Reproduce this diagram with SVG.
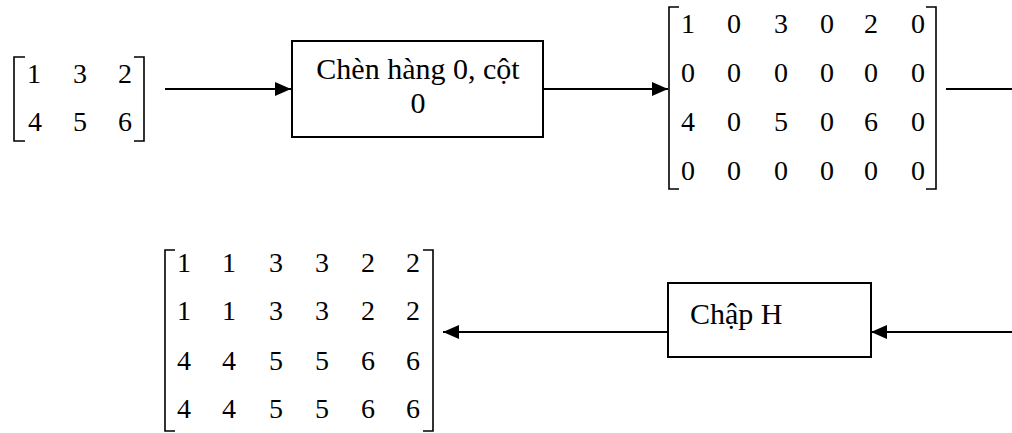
<svg xmlns="http://www.w3.org/2000/svg" width="1012" height="433" viewBox="0 0 1012 433">
<style>
  .t { font-family: "Liberation Serif", "Times New Roman", serif; font-size: 30px; fill: #000; }
  .br { fill: none; stroke: #000; stroke-width: 1.6; }
  .box { fill: #fff; stroke: #000; stroke-width: 2; }
  .ln { fill: none; stroke: #000; stroke-width: 2; }
</style>
<defs>
  <marker id="ah" markerUnits="userSpaceOnUse" markerWidth="16" markerHeight="14" refX="16" refY="7" orient="auto">
    <path d="M0,0 L16,7 L0,14 z" fill="#000"/>
  </marker>
</defs>
<rect width="1012" height="433" fill="#fff"/>

<g id="connectors">
  <line class="ln" x1="165" y1="89" x2="291" y2="89" marker-end="url(#ah)"/>
  <line class="ln" x1="543" y1="89" x2="668" y2="89" marker-end="url(#ah)"/>
  <line class="ln" x1="946" y1="89" x2="1012" y2="89"/>
  <line class="ln" x1="1012" y1="332" x2="871" y2="332" marker-end="url(#ah)"/>
  <line class="ln" x1="668" y1="332" x2="443" y2="332" marker-end="url(#ah)"/>
</g>

<g id="matrix-input" font-family="'Liberation Serif', 'Times New Roman', serif" font-size="28" text-anchor="middle" fill="#000">
  <polyline class="br" points="25,57 14,57 14,141 25,141"/>
  <polyline class="br" points="134,57 144,57 144,141 134,141"/>
  <text x="34" y="83">1</text>
  <text x="80" y="83">3</text>
  <text x="125" y="83">2</text>
  <text x="35" y="131">4</text>
  <text x="80" y="131">5</text>
  <text x="125" y="131">6</text>
</g>

<g id="box-insert">
  <rect class="box" x="292" y="41" width="251" height="96"/>
  <text class="t" x="418" y="79" text-anchor="middle">Chèn hàng 0, cột</text>
  <text class="t" x="418" y="113" text-anchor="middle">0</text>
</g>

<g id="matrix-zero" font-family="'Liberation Serif', 'Times New Roman', serif" font-size="28" text-anchor="middle" fill="#000">
  <polyline class="br" points="679,7 669,7 669,189 679,189"/>
  <polyline class="br" points="926,7 936,7 936,189 926,189"/>
  <text x="688" y="33">1</text>
  <text x="734" y="33">0</text>
  <text x="781" y="33">3</text>
  <text x="827" y="33">0</text>
  <text x="871" y="33">2</text>
  <text x="918" y="33">0</text>
  <text x="688" y="82">0</text>
  <text x="734" y="82">0</text>
  <text x="781" y="82">0</text>
  <text x="827" y="82">0</text>
  <text x="871" y="82">0</text>
  <text x="918" y="82">0</text>
  <text x="688" y="131">4</text>
  <text x="734" y="131">0</text>
  <text x="781" y="131">5</text>
  <text x="827" y="131">0</text>
  <text x="871" y="131">6</text>
  <text x="918" y="131">0</text>
  <text x="688" y="180">0</text>
  <text x="734" y="180">0</text>
  <text x="781" y="180">0</text>
  <text x="827" y="180">0</text>
  <text x="871" y="180">0</text>
  <text x="918" y="180">0</text>
</g>

<g id="box-conv">
  <rect class="box" x="668" y="283" width="203" height="74"/>
  <text class="t" x="690" y="324">Chập H</text>
</g>

<g id="matrix-output" font-family="'Liberation Serif', 'Times New Roman', serif" font-size="28" text-anchor="middle" fill="#000">
  <polyline class="br" points="175,250 165,250 165,431 175,431"/>
  <polyline class="br" points="423,250 433,250 433,431 423,431"/>
  <text x="184" y="272">1</text>
  <text x="229" y="272">1</text>
  <text x="276" y="272">3</text>
  <text x="322" y="272">3</text>
  <text x="368" y="272">2</text>
  <text x="413" y="272">2</text>
  <text x="184" y="320">1</text>
  <text x="229" y="320">1</text>
  <text x="276" y="320">3</text>
  <text x="322" y="320">3</text>
  <text x="368" y="320">2</text>
  <text x="413" y="320">2</text>
  <text x="184" y="370">4</text>
  <text x="229" y="370">4</text>
  <text x="276" y="370">5</text>
  <text x="322" y="370">5</text>
  <text x="368" y="370">6</text>
  <text x="413" y="370">6</text>
  <text x="184" y="418">4</text>
  <text x="229" y="418">4</text>
  <text x="276" y="418">5</text>
  <text x="322" y="418">5</text>
  <text x="368" y="418">6</text>
  <text x="413" y="418">6</text>
</g>
</svg>
